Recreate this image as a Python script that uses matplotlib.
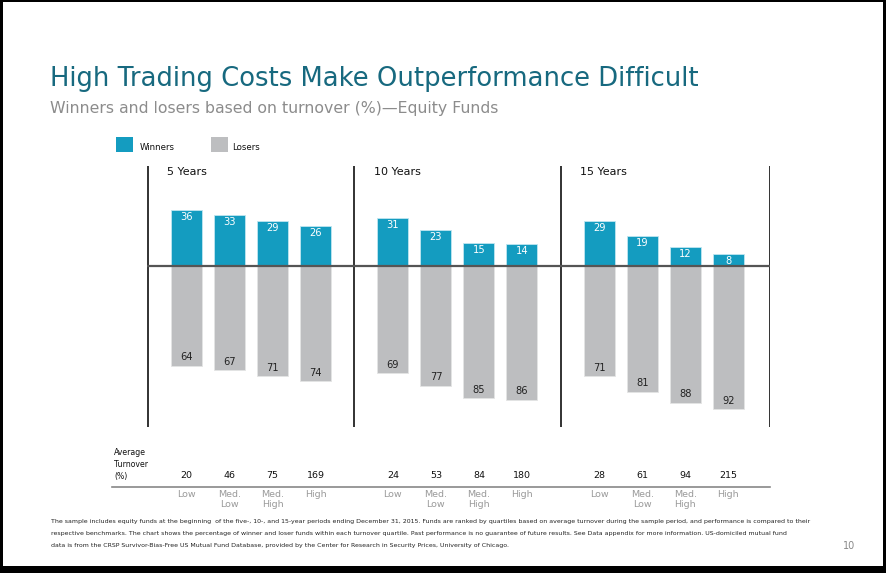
import numpy as np
import matplotlib.pyplot as plt
import matplotlib.transforms as mtransforms
from matplotlib.patches import Rectangle

plt.rcParams['font.family'] = ['DejaVu Sans']

# data
periods = ['5 Years', '10 Years', '15 Years']
quartiles = ['Low', 'Med.\nLow', 'Med.\nHigh', 'High']
winners = [[36, 33, 29, 26], [31, 23, 15, 14], [29, 19, 12, 8]]
losers = [[64, 67, 71, 74], [69, 77, 85, 86], [71, 81, 88, 92]]
turnover = [[20, 46, 75, 169], [24, 53, 84, 180], [28, 61, 94, 215]]

blue = '#149cc0'
grey = '#bdbec0'
teal = '#17697f'

W, H = 886, 573
fig = plt.figure(figsize=(W / 100, H / 100), dpi=100)


def fx(px):
    return px / W


def fy(py):
    return 1 - py / H


# bar area: pixel box 147..770 x 166..427
ax = fig.add_axes([fx(147), fy(427), fx(770) - fx(147), fy(166) - fy(427)])
ax.set_xlim(-0.919, 13.57)
ax.set_ylim(-103.5, 64.3)
ax.axis('off')

gap = 4.8
bw = 0.72
for g in range(3):
    xs = g * gap + np.arange(4)
    ax.bar(xs, winners[g], width=bw, color=blue, edgecolor='#bfe6f0', linewidth=0.6)
    ax.bar(xs, [-v for v in losers[g]], width=bw, color=grey, edgecolor='#e4e4e4', linewidth=0.6)
    for x, w, l in zip(xs, winners[g], losers[g]):
        ax.text(x, w - 4.5, str(w), ha='center', va='center', color='white', fontsize=7.1)
        ax.text(x, -l + 5.5, str(l), ha='center', va='center', color='#222222', fontsize=7.1)
    # separators and period labels
    ax.axvline(g * gap - 0.9, color='#222222', lw=1.3)
    ax.text(g * gap - 0.45, 60.5, periods[g], ha='left', va='center', fontsize=8, color='#111111')
ax.axvline(13.56, color='#222222', lw=1.3)
ax.axhline(0, color='#555555', lw=1.6)

# turnover row and quartile labels below the bars
bt = mtransforms.blended_transform_factory(ax.transData, fig.transFigure)
for g in range(3):
    for i in range(4):
        x = g * gap + i
        ax.text(x, fy(475), str(turnover[g][i]), transform=bt, ha='center', va='center',
                fontsize=6.8, color='#111111', clip_on=False)
        ax.text(x, fy(490), quartiles[i], transform=bt, ha='center', va='top',
                fontsize=6.8, color='#9a9a9a', linespacing=1.15, clip_on=False)
fig.add_artist(plt.Line2D([fx(112), fx(770)], [fy(487), fy(487)], color='#888888', lw=1.2))
fig.text(fx(114), fy(481), 'Average\nTurnover\n(%)', ha='left', va='bottom', fontsize=5.6,
         color='#111111', linespacing=1.4)

# titles
fig.text(fx(50), fy(79), 'High Trading Costs Make Outperformance Difficult', ha='left',
         va='center', fontsize=18.6, color=teal)
fig.text(fx(50), fy(108), 'Winners and losers based on turnover (%)\u2014Equity Funds', ha='left',
         va='center', fontsize=11.3, color='#8c8c8c')

# legend
fig.add_artist(Rectangle((fx(116), fy(152)), fx(17), 15 / H, color=blue, lw=0))
fig.text(fx(140), fy(147), 'Winners', ha='left', va='center', fontsize=6.2, color='#111111')
fig.add_artist(Rectangle((fx(211), fy(152)), fx(17), 15 / H, color=grey, lw=0))
fig.text(fx(232), fy(147), 'Losers', ha='left', va='center', fontsize=6.2, color='#111111')

# footnote
notes = [
    'The sample includes equity funds at the beginning  of the five-, 10-, and 15-year periods ending December 31, 2015. '
    'Funds are ranked by quartiles based on average turnover during the sample period, and performance is compared to their',
    'respective benchmarks. The chart shows the percentage of winner and loser funds within each turnover quartile. '
    'Past performance is no guarantee of future results. See Data appendix for more information. US-domiciled mutual fund',
    'data is from the CRSP Survivor-Bias-Free US Mutual Fund Database, provided by the Center for Research in Security Prices, University of Chicago.',
]
for k, line in enumerate(notes):
    fig.text(fx(51), fy(522 + 11.5 * k), line, ha='left', va='center', fontsize=4.48, color='#222222')
fig.text(fx(843), fy(546), '10', ha='left', va='center', fontsize=7, color='#888888')

# slide frame
fig.add_artist(Rectangle((0, 0), 1, 7 / H, color='black', lw=0))
fig.add_artist(Rectangle((0, 0), fx(3), 1, color='black', lw=0))
fig.add_artist(Rectangle((fx(883), 0), fx(3), 1, color='black', lw=0))
fig.add_artist(Rectangle((0, fy(2)), 1, 2 / H, color='black', lw=0))

fig.savefig('out.png', dpi=100)
